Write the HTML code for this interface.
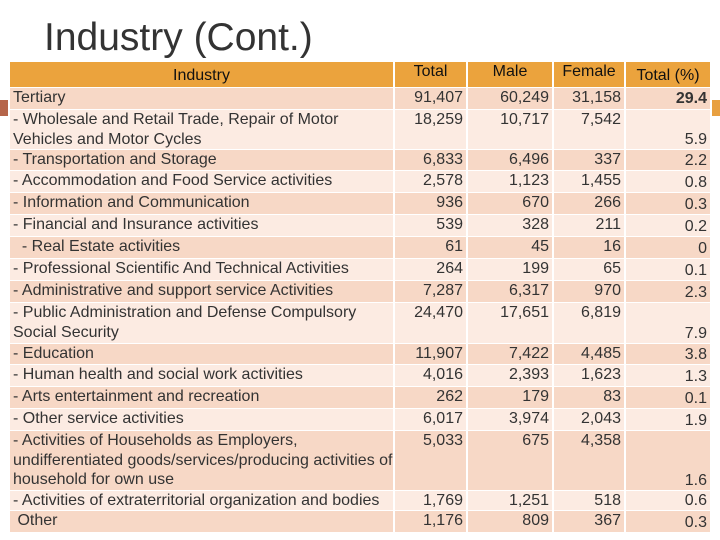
<!DOCTYPE html>
<html><head><meta charset="utf-8"><style>
body{margin:0;width:720px;height:540px;background:#fff;position:relative;overflow:hidden;font-family:"Liberation Sans",sans-serif;}
.c{position:absolute;box-sizing:border-box;font-size:16px;letter-spacing:0px;color:#333;line-height:20px;padding:0 3px;white-space:nowrap;}
.h{background:#eba33d;color:#111;font-size:16px;}
.d{background:#f7d8c6;}
.l{background:#fcebe2;}
.r{text-align:right;}
</style></head><body>
<div style="position:absolute;left:44px;top:16px;font-size:39px;color:#333;">Industry (Cont.)</div>
<div style="position:absolute;left:0;top:100px;width:8px;height:16px;background:#b5654a"></div>
<div style="position:absolute;left:712px;top:100px;width:8px;height:16px;background:#e8a040"></div>
<div id="t"></div>
<script>
const rows=[
["Tertiary","91,407","60,249","31,158","29.4",88,109],
[" - Wholesale and Retail Trade, Repair of Motor<br>Vehicles and Motor Cycles","18,259","10,717","7,542","5.9",110,149],
[" - Transportation and Storage","6,833","6,496","337","2.2",150,170],
[" - Accommodation and Food Service activities","2,578","1,123","1,455","0.8",171,192],
[" - Information and Communication","936","670","266","0.3",193,214],
[" - Financial and Insurance activities","539","328","211","0.2",215,236],
["&nbsp; - Real Estate activities","61","45","16","0",237,258],
[" - Professional Scientific And Technical Activities","264","199","65","0.1",259,280],
[" - Administrative and support service Activities","7,287","6,317","970","2.3",281,302],
[" - Public Administration and Defense Compulsory<br>Social Security","24,470","17,651","6,819","7.9",303,343],
[" - Education","11,907","7,422","4,485","3.8",344,364],
[" - Human health and social work activities","4,016","2,393","1,623","1.3",365,386],
[" - Arts entertainment and recreation","262","179","83","0.1",387,408],
[" - Other service activities","6,017","3,974","2,043","1.9",409,430],
[" - Activities of Households as Employers,<br>undifferentiated goods/services/producing activities of<br>household for own use","5,033","675","4,358","1.6",431,490],
[" - Activities of extraterritorial organization and bodies","1,769","1,251","518","0.6",491,510],
["&nbsp;Other","1,176","809","367","0.3",511,532]];
const cols=[[10,393],[395,466],[468,552],[554,624],[626,710]];
const t=document.getElementById('t');
function cell(x0,x1,y0,y1,cls,html,style){
 const d=document.createElement('div');d.className='c '+cls;
 d.style.cssText=`left:${x0}px;top:${y0}px;width:${x1-x0}px;height:${y1-y0}px;`+(style||'');
 d.innerHTML=html;t.appendChild(d);return d;}
const hd=["Industry","Total","Male","Female","Total (%)"];
hd.forEach((h,i)=>{const d=cell(cols[i][0],cols[i][1],62,87,'h',h,'text-align:center;padding-top:'+(i==0||i==4?'4px':'0')+';');

});
rows.forEach((r,k)=>{const cls=k%2?'l':'d';
 for(let i=0;i<5;i++){
  const st=i==4?'display:flex;align-items:flex-end;justify-content:flex-end;line-height:18px;'+(k==0?'font-weight:bold;align-items:center;':''):'';
  const d=cell(cols[i][0],cols[i][1],r[5],r[6],cls+(i>0?' r':''),r[i],st+(i==0?'padding-left:3px;line-height:19.5px;':''));
  
  
 }});
</script>
</body></html>
